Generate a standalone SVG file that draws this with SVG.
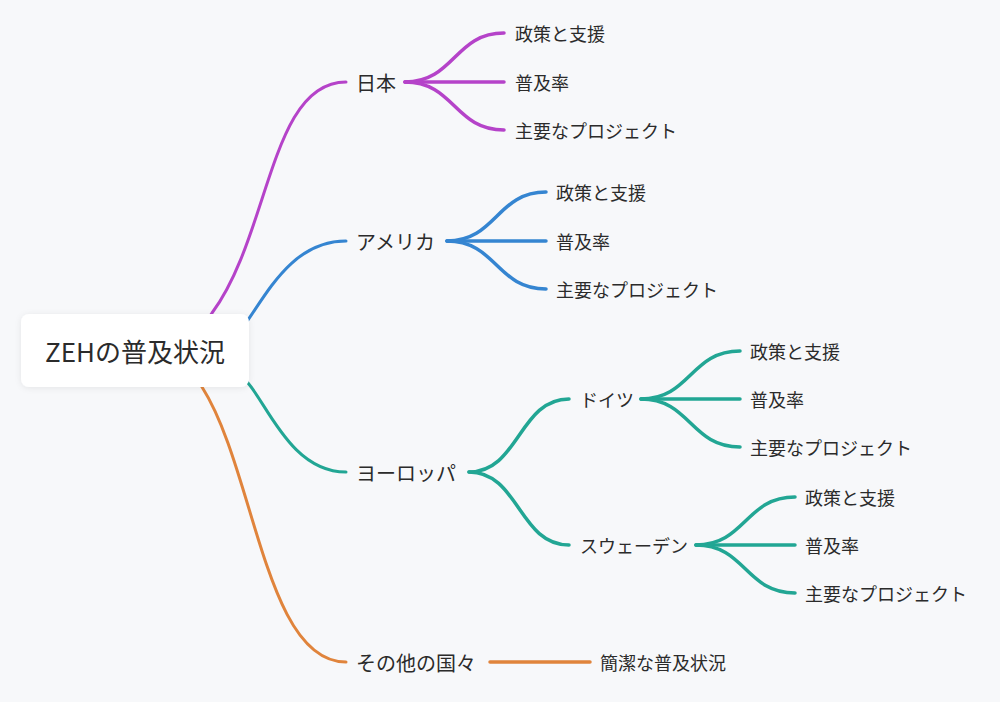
<svg xmlns="http://www.w3.org/2000/svg" width="1000" height="702" viewBox="0 0 1000 702">
<defs>
<style>
.lk{fill:none;stroke-linecap:round;stroke-linejoin:round}
.m{stroke-width:3}
.s{stroke-width:3.5}
.p{stroke:#b543c9}
.b{stroke:#3585d1}
.t{stroke:#22a694}
.o{stroke:#e0843c}
text{font-family:"Noto Sans CJK JP","Noto Sans",sans-serif;fill:#2b2b2b;dominant-baseline:central}
.r{font-size:26px}
.l2{font-size:20px}
.l3{font-size:18px}
.lf{font-size:18px}
</style>
<filter id="sh" x="-20%" y="-30%" width="140%" height="160%">
<feDropShadow dx="0" dy="1" stdDeviation="3" flood-color="#000" flood-opacity="0.08"/>
</filter>
</defs>
<rect width="1000" height="702" fill="#f7f8fa"/>
<g id="connectors">
<path class="lk m p" d="M203,326 L212,313 C270,235 270,82 346,82"/>
<path class="lk m b" d="M236,338 L248,320 C270,288 295,241 346,241"/>
<path class="lk m t" d="M236,369 L248,383 C268,406 292,472 346,472"/>
<path class="lk m o" d="M196,376 L202,387 C255,470 265,662 346,662"/>
<path class="lk s p" d="M405,82 C454.5,82 454.5,33 504,33"/>
<path class="lk s p" d="M405,82 L504,82"/>
<path class="lk s p" d="M405,82 C454.5,82 454.5,130 504,130"/>
<path class="lk s b" d="M447,241 C496.5,241 496.5,192 546,192"/>
<path class="lk s b" d="M447,241 L546,241"/>
<path class="lk s b" d="M447,241 C496.5,241 496.5,289 546,289"/>
<path class="lk s t" d="M469,472 C519,472 519,399 569,399"/>
<path class="lk s t" d="M469,472 C519,472 519,545 569,545"/>
<path class="lk s t" d="M641,399 C690.5,399 690.5,351 740,351"/>
<path class="lk s t" d="M641,399 L740,399"/>
<path class="lk s t" d="M641,399 C690.5,399 690.5,447 740,447"/>
<path class="lk s t" d="M696,545 C745.5,545 745.5,497 795,497"/>
<path class="lk s t" d="M696,545 L795,545"/>
<path class="lk s t" d="M696,545 C745.5,545 745.5,593 795,593"/>
<path class="lk s o" d="M490,662 L590,662"/>
</g>
<g id="root">
<rect x="21" y="314" width="228" height="73" rx="8" fill="#ffffff" filter="url(#sh)"/>
<text class="r" x="135" y="350" text-anchor="middle">ZEHの普及状況</text>
</g>
<g id="japan"><text class="l2" x="356" y="82">日本</text></g>
<g id="japan-policy"><text class="lf" x="515" y="33">政策と支援</text></g>
<g id="japan-rate"><text class="lf" x="515" y="82">普及率</text></g>
<g id="japan-projects"><text class="lf" x="515" y="130">主要なプロジェクト</text></g>
<g id="usa"><text class="l2" x="356" y="241">アメリカ</text></g>
<g id="usa-policy"><text class="lf" x="556" y="192">政策と支援</text></g>
<g id="usa-rate"><text class="lf" x="556" y="241">普及率</text></g>
<g id="usa-projects"><text class="lf" x="556" y="289">主要なプロジェクト</text></g>
<g id="europe"><text class="l2" x="356" y="472">ヨーロッパ</text></g>
<g id="germany"><text class="l3" x="580" y="399">ドイツ</text></g>
<g id="germany-policy"><text class="lf" x="750" y="351">政策と支援</text></g>
<g id="germany-rate"><text class="lf" x="750" y="399">普及率</text></g>
<g id="germany-projects"><text class="lf" x="750" y="447">主要なプロジェクト</text></g>
<g id="sweden"><text class="l3" x="580" y="545">スウェーデン</text></g>
<g id="sweden-policy"><text class="lf" x="805" y="497">政策と支援</text></g>
<g id="sweden-rate"><text class="lf" x="805" y="545">普及率</text></g>
<g id="sweden-projects"><text class="lf" x="805" y="593">主要なプロジェクト</text></g>
<g id="others"><text class="l2" x="356" y="662">その他の国々</text></g>
<g id="others-summary"><text class="lf" x="600" y="662">簡潔な普及状況</text></g>
</svg>
